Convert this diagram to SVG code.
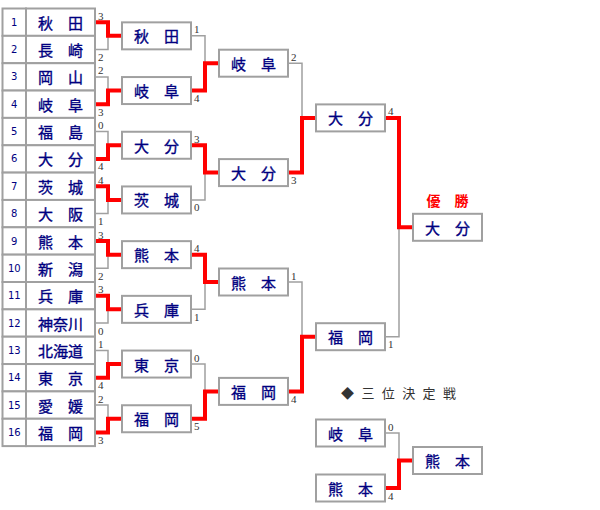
<svg xmlns="http://www.w3.org/2000/svg" width="600" height="510" viewBox="0 0 600 510">
<style>
.cell{fill:#fff;stroke:#a0a0a0;stroke-width:2}
.box{fill:#fff;stroke:#a0a0a0;stroke-width:2}
.nm{font-family:"Noto Sans CJK JP","Noto Sans CJK SC",sans-serif;font-size:15px;font-weight:normal;fill:#000080;text-anchor:middle;dominant-baseline:central;stroke:#000080;stroke-width:0.35}
.no{font-family:"DejaVu Sans",sans-serif;font-size:10px;fill:#000080;text-anchor:middle;dominant-baseline:central}
.sc{font-family:"Liberation Serif",serif;font-size:11px;fill:#333}
.g{fill:none;stroke:#a0a0a0;stroke-width:1.5}
.r{fill:none;stroke:#ff0000;stroke-width:4;stroke-linejoin:miter}
.ttl{font-family:"Noto Sans CJK JP",sans-serif;font-size:14px;font-weight:bold;fill:#ff0000;text-anchor:middle}
.sub{font-family:"Noto Sans CJK JP",sans-serif;font-size:13px;fill:#333;letter-spacing:7.4px}
</style>
<rect width="600" height="510" fill="#fff"/>

<g id="connectors">
<path class="g" d="M95,22.2H108V49.5H95M108,35.85H122"/>
<path class="g" d="M95,76.9H108V104.2H95M108,90.55H122"/>
<path class="g" d="M95,131.6H108V158.9H95M108,145.25H122"/>
<path class="g" d="M95,186.3H108V213.6H95M108,199.95H122"/>
<path class="g" d="M95,241H108V268.3H95M108,254.65H122"/>
<path class="g" d="M95,295.7H108V323H95M108,309.35H122"/>
<path class="g" d="M95,350.4H108V377.7H95M108,364.05H122"/>
<path class="g" d="M95,405.1H108V432.4H95M108,418.75H122"/>
<path class="g" d="M191,35.85H205V90.55H191M205,63.2H219"/>
<path class="g" d="M191,145.25H205V199.95H191M205,172.6H219"/>
<path class="g" d="M191,254.65H205V309.35H191M205,282H219"/>
<path class="g" d="M191,364.05H205V418.75H191M205,391.4H219"/>
<path class="g" d="M288,63.2H302V172.6H288M302,117.9H316"/>
<path class="g" d="M288,282H302V391.4H288M302,336.7H316"/>
<path class="g" d="M385,117.9H399V336.7H385M399,227.3H413"/>
<path class="g" d="M385,433H399V488H385M399,460.5H413"/>

<path class="r" d="M95,22.2H108V35.85H122"/>
<path class="r" d="M95,104.2H108V90.55H122"/>
<path class="r" d="M95,158.9H108V145.25H122"/>
<path class="r" d="M95,186.3H108V199.95H122"/>
<path class="r" d="M95,241H108V254.65H122"/>
<path class="r" d="M95,295.7H108V309.35H122"/>
<path class="r" d="M95,377.7H108V364.05H122"/>
<path class="r" d="M95,432.4H108V418.75H122"/>
<path class="r" d="M191,90.55H205V63.2H219"/>
<path class="r" d="M191,145.25H205V172.6H219"/>
<path class="r" d="M191,254.65H205V282H219"/>
<path class="r" d="M191,418.75H205V391.4H219"/>
<path class="r" d="M288,172.6H302V117.9H316"/>
<path class="r" d="M288,391.4H302V336.7H316"/>
<path class="r" d="M385,117.9H399V227.3H413"/>
<path class="r" d="M385,488H399V460.5H413"/>
</g>

<g id="scores">
<text class="sc" x="98" y="19.7">3</text><text class="sc" x="98" y="61">2</text>
<text class="sc" x="98" y="74.4">2</text><text class="sc" x="98" y="115.7">3</text>
<text class="sc" x="98" y="129.1">0</text><text class="sc" x="98" y="170.4">4</text>
<text class="sc" x="98" y="183.8">4</text><text class="sc" x="98" y="225.1">1</text>
<text class="sc" x="98" y="238.5">3</text><text class="sc" x="98" y="279.8">2</text>
<text class="sc" x="98" y="293.2">3</text><text class="sc" x="98" y="334.5">0</text>
<text class="sc" x="98" y="347.9">1</text><text class="sc" x="98" y="389.2">4</text>
<text class="sc" x="98" y="402.6">2</text><text class="sc" x="98" y="443.9">3</text>
<text class="sc" x="194" y="33.35">1</text><text class="sc" x="194" y="102.05">4</text>
<text class="sc" x="194" y="142.75">3</text><text class="sc" x="194" y="211.45">0</text>
<text class="sc" x="194" y="252.15">4</text><text class="sc" x="194" y="320.85">1</text>
<text class="sc" x="194" y="361.55">0</text><text class="sc" x="194" y="430.25">5</text>
<text class="sc" x="291" y="60.7">2</text><text class="sc" x="291" y="184.1">3</text>
<text class="sc" x="291" y="279.5">1</text><text class="sc" x="291" y="402.9">4</text>
<text class="sc" x="388" y="115.4">4</text><text class="sc" x="388" y="348.2">1</text>
<text class="sc" x="388" y="430.5">0</text><text class="sc" x="388" y="499.5">4</text>
</g>

<g id="t1"><rect class="cell" x="2.5" y="8.5" width="23.5" height="27.35"/><rect class="cell" x="26" y="8.5" width="69" height="27.35"/><text class="no" x="14.25" y="22.2">1</text><text class="nm" x="60.5" y="22.2">秋　田</text></g>
<g id="t2"><rect class="cell" x="2.5" y="35.85" width="23.5" height="27.35"/><rect class="cell" x="26" y="35.85" width="69" height="27.35"/><text class="no" x="14.25" y="49.5">2</text><text class="nm" x="60.5" y="49.5">長　崎</text></g>
<g id="t3"><rect class="cell" x="2.5" y="63.2" width="23.5" height="27.35"/><rect class="cell" x="26" y="63.2" width="69" height="27.35"/><text class="no" x="14.25" y="76.9">3</text><text class="nm" x="60.5" y="76.9">岡　山</text></g>
<g id="t4"><rect class="cell" x="2.5" y="90.55" width="23.5" height="27.35"/><rect class="cell" x="26" y="90.55" width="69" height="27.35"/><text class="no" x="14.25" y="104.2">4</text><text class="nm" x="60.5" y="104.2">岐　阜</text></g>
<g id="t5"><rect class="cell" x="2.5" y="117.9" width="23.5" height="27.35"/><rect class="cell" x="26" y="117.9" width="69" height="27.35"/><text class="no" x="14.25" y="131.6">5</text><text class="nm" x="60.5" y="131.6">福　島</text></g>
<g id="t6"><rect class="cell" x="2.5" y="145.25" width="23.5" height="27.35"/><rect class="cell" x="26" y="145.25" width="69" height="27.35"/><text class="no" x="14.25" y="158.9">6</text><text class="nm" x="60.5" y="158.9">大　分</text></g>
<g id="t7"><rect class="cell" x="2.5" y="172.6" width="23.5" height="27.35"/><rect class="cell" x="26" y="172.6" width="69" height="27.35"/><text class="no" x="14.25" y="186.3">7</text><text class="nm" x="60.5" y="186.3">茨　城</text></g>
<g id="t8"><rect class="cell" x="2.5" y="199.95" width="23.5" height="27.35"/><rect class="cell" x="26" y="199.95" width="69" height="27.35"/><text class="no" x="14.25" y="213.6">8</text><text class="nm" x="60.5" y="213.6">大　阪</text></g>
<g id="t9"><rect class="cell" x="2.5" y="227.3" width="23.5" height="27.35"/><rect class="cell" x="26" y="227.3" width="69" height="27.35"/><text class="no" x="14.25" y="241">9</text><text class="nm" x="60.5" y="241">熊　本</text></g>
<g id="t10"><rect class="cell" x="2.5" y="254.65" width="23.5" height="27.35"/><rect class="cell" x="26" y="254.65" width="69" height="27.35"/><text class="no" x="14.25" y="268.3">10</text><text class="nm" x="60.5" y="268.3">新　潟</text></g>
<g id="t11"><rect class="cell" x="2.5" y="282" width="23.5" height="27.35"/><rect class="cell" x="26" y="282" width="69" height="27.35"/><text class="no" x="14.25" y="295.7">11</text><text class="nm" x="60.5" y="295.7">兵　庫</text></g>
<g id="t12"><rect class="cell" x="2.5" y="309.35" width="23.5" height="27.35"/><rect class="cell" x="26" y="309.35" width="69" height="27.35"/><text class="no" x="14.25" y="323">12</text><text class="nm" x="60.5" y="323">神奈川</text></g>
<g id="t13"><rect class="cell" x="2.5" y="336.7" width="23.5" height="27.35"/><rect class="cell" x="26" y="336.7" width="69" height="27.35"/><text class="no" x="14.25" y="350.4">13</text><text class="nm" x="60.5" y="350.4">北海道</text></g>
<g id="t14"><rect class="cell" x="2.5" y="364.05" width="23.5" height="27.35"/><rect class="cell" x="26" y="364.05" width="69" height="27.35"/><text class="no" x="14.25" y="377.7">14</text><text class="nm" x="60.5" y="377.7">東　京</text></g>
<g id="t15"><rect class="cell" x="2.5" y="391.4" width="23.5" height="27.35"/><rect class="cell" x="26" y="391.4" width="69" height="27.35"/><text class="no" x="14.25" y="405.1">15</text><text class="nm" x="60.5" y="405.1">愛　媛</text></g>
<g id="t16"><rect class="cell" x="2.5" y="418.75" width="23.5" height="27.35"/><rect class="cell" x="26" y="418.75" width="69" height="27.35"/><text class="no" x="14.25" y="432.4">16</text><text class="nm" x="60.5" y="432.4">福　岡</text></g>

<g id="r2-1"><rect class="box" x="122" y="22.35" width="69" height="27"/><text class="nm" x="156.5" y="35.85">秋　田</text></g>
<g id="r2-2"><rect class="box" x="122" y="77.05" width="69" height="27"/><text class="nm" x="156.5" y="90.55">岐　阜</text></g>
<g id="r2-3"><rect class="box" x="122" y="131.75" width="69" height="27"/><text class="nm" x="156.5" y="145.25">大　分</text></g>
<g id="r2-4"><rect class="box" x="122" y="186.45" width="69" height="27"/><text class="nm" x="156.5" y="199.95">茨　城</text></g>
<g id="r2-5"><rect class="box" x="122" y="241.15" width="69" height="27"/><text class="nm" x="156.5" y="254.65">熊　本</text></g>
<g id="r2-6"><rect class="box" x="122" y="295.85" width="69" height="27"/><text class="nm" x="156.5" y="309.35">兵　庫</text></g>
<g id="r2-7"><rect class="box" x="122" y="350.55" width="69" height="27"/><text class="nm" x="156.5" y="364.05">東　京</text></g>
<g id="r2-8"><rect class="box" x="122" y="405.25" width="69" height="27"/><text class="nm" x="156.5" y="418.75">福　岡</text></g>

<g id="r3-1"><rect class="box" x="219" y="49.7" width="69" height="27"/><text class="nm" x="253.5" y="63.2">岐　阜</text></g>
<g id="r3-2"><rect class="box" x="219" y="159.1" width="69" height="27"/><text class="nm" x="253.5" y="172.6">大　分</text></g>
<g id="r3-3"><rect class="box" x="219" y="268.5" width="69" height="27"/><text class="nm" x="253.5" y="282">熊　本</text></g>
<g id="r3-4"><rect class="box" x="219" y="377.9" width="69" height="27"/><text class="nm" x="253.5" y="391.4">福　岡</text></g>

<g id="sf-1"><rect class="box" x="316" y="104.4" width="69" height="27"/><text class="nm" x="350.5" y="117.9">大　分</text></g>
<g id="sf-2"><rect class="box" x="316" y="323.2" width="69" height="27"/><text class="nm" x="350.5" y="336.7">福　岡</text></g>

<g id="champion"><text class="ttl" x="447.5" y="206">優　勝</text><rect class="box" x="413" y="213.8" width="69" height="27"/><text class="nm" x="447.5" y="227.3">大　分</text></g>

<g id="third-title"><text class="sub" x="341" y="397.5">◆三位決定戦</text></g>
<g id="tp-1"><rect class="box" x="316" y="419.5" width="69" height="27"/><text class="nm" x="350.5" y="433">岐　阜</text></g>
<g id="tp-2"><rect class="box" x="316" y="474.5" width="69" height="27"/><text class="nm" x="350.5" y="488">熊　本</text></g>
<g id="tp-w"><rect class="box" x="413" y="447" width="69" height="27"/><text class="nm" x="447.5" y="460.5">熊　本</text></g>
</svg>
